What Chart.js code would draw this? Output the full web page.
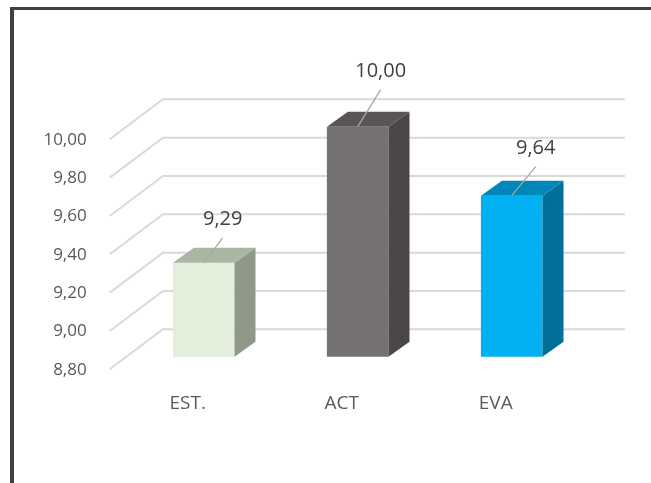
<!DOCTYPE html>
<html>
<head>
<meta charset="utf-8">
<script src="https://cdn.jsdelivr.net/npm/chart.js@4.4.0/dist/chart.umd.min.js"></script>
<style>
  html, body { margin: 0; padding: 0; background: #fff; }
  #wrap { position: relative; width: 651px; height: 483px; }
  #frame { position: absolute; left: 10px; top: 7px; right: 0; bottom: 0;
           border-left: 4px solid #404040; border-top: 3px solid #404040; pointer-events: none; }
</style>
</head>
<body>
<div id="wrap">
  <canvas id="chartCanva" width="651" height="483"></canvas>
  <div id="frame"></div>
</div>
<script>
// categories and values
var categories = ['EST.', 'ACT', 'EVA'];
var values = [9.29, 10.00, 9.64];
var yTicksMin = 8.80;
var yTicksMax = 10.00;
var yTicksStep = 0.20;

var frontColors = ['#E2EFDA', '#767171', '#00B0F0'];
var topColors = ['#A9B6A2', '#5A5555', '#0087B9'];
var sideColors = ['#8E998A', '#4B4747', '#006F99'];

function fmt(v) { return v.toFixed(2).replace('.', ','); }

// 3d look: back wall grid + floor diagonals, bar side/top faces, data labels
var threeD = {
    id: 'threeD',
    beforeDatasetsDraw: function(chart) {
        var ctx = chart.ctx, y = chart.scales.y, area = chart.chartArea;
        ctx.save();
        ctx.strokeStyle = '#D9D9D9';
        ctx.lineWidth = 2;
        y.ticks.forEach(function(t) {
            var py = y.getPixelForValue(t.value);
            ctx.beginPath();
            ctx.moveTo(area.left - 17, py + 12.6);
            ctx.lineTo(area.left + 36.3, py - 27.4);
            ctx.lineTo(area.right + 36.3, py - 27.4);
            ctx.stroke();
        });
        ctx.restore();
    },
    afterDatasetsDraw: function(chart) {
        var ctx = chart.ctx;
        var meta = chart.getDatasetMeta(0);
        var floor = chart.scales.y.getPixelForValue(chart.scales.y.min);
        var dx = 21, dy = -15;
        var lblOff = [[19, -43], [23, -55], [24, -47]];
        ctx.save();
        meta.data.forEach(function(bar, i) {
            var l = bar.x - bar.width / 2, r = bar.x + bar.width / 2;
            var t = bar.y, b = floor;
            ctx.fillStyle = sideColors[i];
            ctx.beginPath();
            ctx.moveTo(r, t); ctx.lineTo(r + dx, t + dy);
            ctx.lineTo(r + dx, b + dy); ctx.lineTo(r, b);
            ctx.closePath(); ctx.fill();
            ctx.fillStyle = topColors[i];
            ctx.beginPath();
            ctx.moveTo(l, t); ctx.lineTo(l + dx, t + dy);
            ctx.lineTo(r + dx, t + dy); ctx.lineTo(r, t);
            ctx.closePath(); ctx.fill();

            var lx = bar.x + lblOff[i][0], ly = t + lblOff[i][1];
            ctx.strokeStyle = '#A6A6A6';
            ctx.lineWidth = 1.3;
            ctx.beginPath();
            ctx.moveTo(lx, ly + 18);
            ctx.lineTo(bar.x, t);
            ctx.stroke();
            ctx.fillStyle = '#404040';
            ctx.font = '20px "Open Sans"';
            ctx.textAlign = 'center';
            ctx.textBaseline = 'middle';
            ctx.fillText(fmt(values[i]), lx, ly);
        });
        ctx.restore();
    }
};

var config = {
    type: 'bar',
    data: {
        labels: categories,
        datasets: [{
            data: values,
            backgroundColor: frontColors,
            borderWidth: 0,
            barPercentage: 0.4,
            categoryPercentage: 1.0
        }]
    },
    options: {
        responsive: false,
        animation: false,
        events: [],
        layout: { padding: { left: 0, top: 126.7, right: 62.3, bottom: 0 } },
        plugins: { legend: { display: false }, tooltip: { enabled: false }, title: { display: false } },
        scales: {
            x: {
                grid: { display: false, drawTicks: false },
                border: { display: false },
                afterFit: function(axis) { axis.height = 126.3; },
                ticks: {
                    color: '#595959',
                    font: { family: 'Open Sans', size: 19 },
                    padding: 35,
                    labelOffset: -16
                }
            },
            y: {
                min: yTicksMin,
                max: yTicksMax,
                grid: { display: false, drawTicks: false },
                border: { display: false },
                afterFit: function(axis) { axis.width = 126.7; },
                ticks: {
                    stepSize: yTicksStep,
                    color: '#595959',
                    font: { family: 'Open Sans', size: 17 },
                    padding: 40,
                    labelOffset: 13,
                    callback: function(v) { return fmt(v); }
                }
            }
        }
    },
    plugins: [threeD]
};

var myChart = new Chart(document.getElementById('chartCanva'), config);
</script>
</body>
</html>
